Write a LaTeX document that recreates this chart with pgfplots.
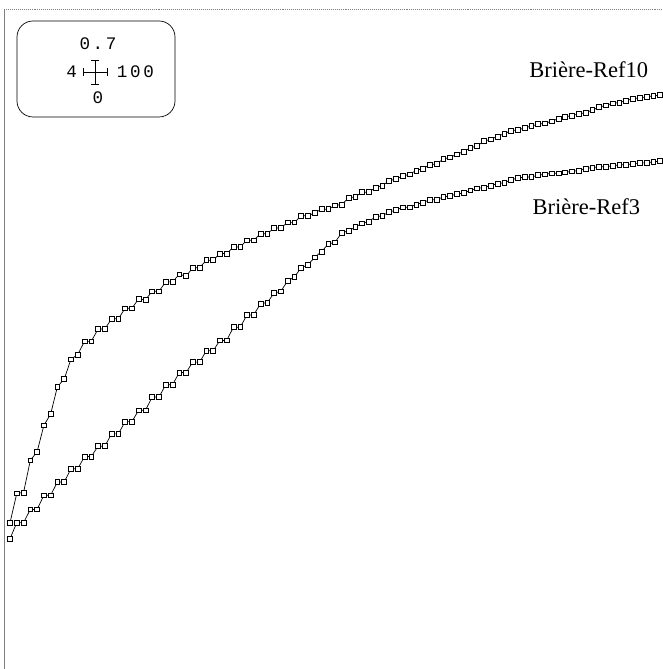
\documentclass[border=0pt]{standalone}
\usepackage{pgfplots}
\pgfplotsset{compat=1.18}
\usepackage{pgfplotstable}
\usepackage{fontspec}
\setmainfont{Liberation Serif}
\newfontfamily\monof[LetterSpace=15]{Liberation Mono}

\pgfplotstableread{
x y
4 0.155
5 0.186
6 0.187
7 0.221
8 0.230
9 0.258
10 0.270
11 0.299
12 0.307
13 0.328
14 0.333
15 0.347
16 0.347
17 0.360
18 0.360
19 0.371
20 0.371
21 0.382
22 0.382
23 0.392
24 0.391
25 0.400
26 0.400
27 0.410
28 0.410
29 0.418
30 0.416
31 0.425
32 0.425
33 0.433
34 0.433
35 0.440
36 0.440
37 0.447
38 0.447
39 0.454
40 0.454
41 0.461
42 0.461
43 0.467
44 0.467
45 0.473
46 0.473
47 0.480
48 0.480
49 0.483
50 0.487
51 0.487
52 0.491
53 0.492
54 0.499
55 0.500
56 0.505
57 0.505
58 0.510
59 0.512
60 0.517
61 0.519
62 0.522
63 0.524
64 0.528
65 0.530
66 0.534
67 0.535
68 0.540
69 0.542
70 0.545
71 0.548
72 0.552
73 0.554
74 0.559
75 0.561
76 0.564
77 0.567
78 0.570
79 0.571
80 0.573
81 0.575
82 0.577
83 0.578
84 0.580
85 0.583
86 0.585
87 0.586
88 0.588
89 0.589
90 0.592
91 0.595
92 0.597
93 0.599
94 0.600
95 0.602
96 0.604
97 0.605
98 0.606
99 0.607
100 0.608
}\refTen

\pgfplotstableread{
x y
4 0.138
5 0.155
6 0.155
7 0.169
8 0.169
9 0.184
10 0.184
11 0.198
12 0.198
13 0.212
14 0.212
15 0.225
16 0.225
17 0.236
18 0.236
19 0.249
20 0.249
21 0.262
22 0.262
23 0.274
24 0.274
25 0.288
26 0.288
27 0.301
28 0.301
29 0.314
30 0.314
31 0.325
32 0.325
33 0.337
34 0.337
35 0.348
36 0.348
37 0.362
38 0.362
39 0.375
40 0.375
41 0.387
42 0.388
43 0.398
44 0.400
45 0.411
46 0.415
47 0.425
48 0.428
49 0.436
50 0.442
51 0.450
52 0.452
53 0.462
54 0.464
55 0.468
56 0.472
57 0.474
58 0.479
59 0.480
60 0.484
61 0.486
62 0.489
63 0.489
64 0.492
65 0.494
66 0.497
67 0.497
68 0.500
69 0.501
70 0.503
71 0.504
72 0.507
73 0.509
74 0.510
75 0.512
76 0.514
77 0.515
78 0.518
79 0.520
80 0.521
81 0.521
82 0.523
83 0.524
84 0.525
85 0.525
86 0.526
87 0.527
88 0.528
89 0.530
90 0.531
91 0.532
92 0.532
93 0.533
94 0.534
95 0.534
96 0.535
97 0.536
98 0.536
99 0.537
100 0.538
}\refThree

\pgfplotsset{brstyle/.style={black, line width=0.5pt,
    mark=square*, mark size=1.7pt,
    mark options={solid, draw=black, fill=white, line width=0.45pt}}}

\begin{document}
\begin{tikzpicture}
\useasboundingbox (0,0) rectangle (16.55cm,16.725cm);
\begin{axis}[
    at={(0.1cm,0cm)}, anchor=south west,
    scale only axis,
    width=16.45cm, height=16.5cm,
    xmin=3.11, xmax=100.3,
    ymin=0, ymax=0.699,
    axis x line*=top, axis y line*=left,
    x axis line style={-, gray, densely dotted},
    y axis line style={-, gray},
    xtick=\empty, ytick=\empty,
    clip=false
]
\addplot[brstyle] table[x=x, y=y] {\refTen};
\addplot[brstyle] table[x=x, y=y] {\refThree};
\end{axis}

% key box in the top left corner
\draw[line width=0.5pt, rounded corners=0.4cm] (0.425,13.8) rectangle (4.375,16.2);
\node[font=\monof\fontsize{12.5}{14}\selectfont] at (2.45,15.625) {0.7};
\node[font=\monof\fontsize{12.5}{14}\selectfont] at (2.45,14.275) {0};
\node[font=\monof\fontsize{12.5}{14}\selectfont, anchor=east] at (2.05,14.925) {4};
\node[font=\monof\fontsize{12.5}{14}\selectfont, anchor=west] at (2.8,14.925) {100};
\draw[line width=0.4pt] (2.075,14.925) -- (2.675,14.925)
    (2.075,14.825) -- (2.075,15.025) (2.675,14.825) -- (2.675,15.025)
    (2.375,14.625) -- (2.375,15.225) (2.275,14.625) -- (2.475,14.625)
    (2.275,15.225) -- (2.475,15.225);

\node[anchor=east, font=\fontsize{16}{18}\selectfont] at (16.325,14.975) {Brière-Ref10};
\node[anchor=east, font=\fontsize{16}{18}\selectfont] at (16.125,11.55) {Brière-Ref3};
\end{tikzpicture}
\end{document}
